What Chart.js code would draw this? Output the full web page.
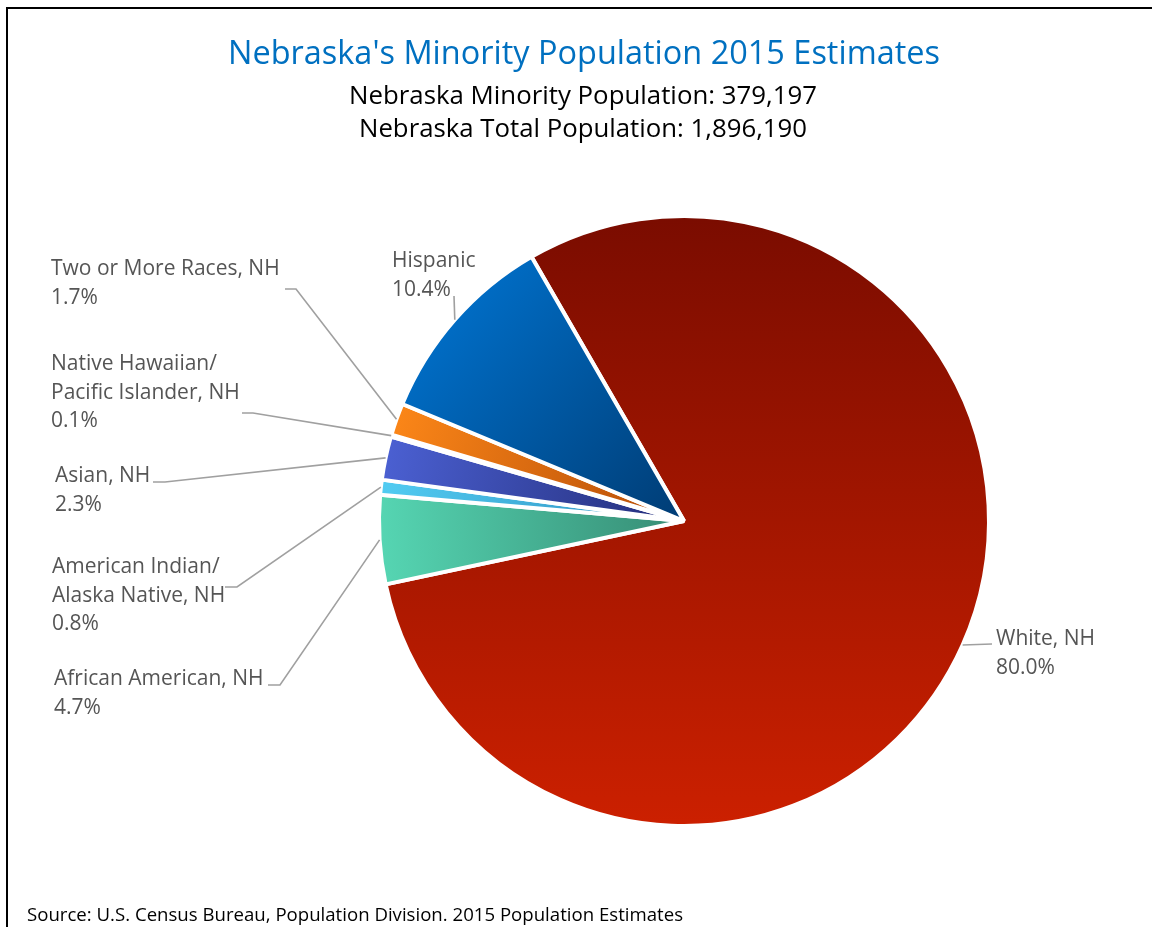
<!DOCTYPE html>
<html>
<head>
<meta charset="utf-8">
<title>Nebraska's Minority Population 2015 Estimates</title>
<script src="https://cdn.jsdelivr.net/npm/chart.js@4/dist/chart.umd.min.js"></script>
<style>
  html, body { margin: 0; padding: 0; background: #fff; }
  #wrap { position: relative; width: 1152px; height: 927px; }
</style>
</head>
<body>
<div id="wrap"><canvas id="pie"></canvas></div>
<script>
    // Race / ethnicity groups, clockwise from the top of the White slice
    const categories = [
        ['White, NH'],
        ['African American, NH'],
        ['American Indian/', 'Alaska Native, NH'],
        ['Asian, NH'],
        ['Native Hawaiian/', 'Pacific Islander, NH'],
        ['Two or More Races, NH'],
        ['Hispanic']
    ];
    const shares = [80.0, 4.7, 0.8, 2.3, 0.1, 1.7, 10.4];

    const titleText = "Nebraska's Minority Population 2015 Estimates";
    const subtitleLines = [
        'Nebraska Minority Population: 379,197',
        'Nebraska Total Population: 1,896,190'
    ];
    const sourceText = 'Source: U.S. Census Bureau, Population Division. 2015 Population Estimates';

    // [outer colour, inner colour] per slice
    const fillStops = [
        ['#7a0c00', '#cc2000'],
        ['#56d6b3', '#368c74'],
        ['#52ccf2', '#2f8fbf'],
        ['#4b60d2', '#232d78'],
        ['#7b55c8', '#3f2a80'],
        ['#fb8618', '#b44c08'],
        ['#006cc4', '#003c74']
    ];

    const ROTATION = -30;
    const FONT = '"Open Sans", "DejaVu Sans", sans-serif';

    // where each data label sits and how its leader line bends
    const labelPlaces = [
        { x: 996, y: 645, path: [[992, 644]] },
        { x: 54, y: 685, path: [[280, 685], [268, 685]] },
        { x: 52, y: 573, path: [[237, 587], [225, 587]] },
        { x: 55, y: 482, path: [[165, 482], [153, 482]] },
        { x: 51, y: 370, path: [[253, 413], [242, 413]] },
        { x: 51, y: 275, path: [[296, 289], [285, 289]] },
        { x: 392, y: 267, path: [[454, 296]] }
    ];

    function midAngle(i) {
        const total = shares.reduce((a, b) => a + b, 0);
        let before = 0;
        for (let k = 0; k < i; k++) before += shares[k];
        const deg = ROTATION + (before + shares[i] / 2) / total * 360;
        return deg * Math.PI / 180;
    }

    function sliceFill(context) {
        const chart = context.chart;
        const area = chart.chartArea;
        const i = context.dataIndex;
        if (!area) return fillStops[i][1];
        const cx = (area.left + area.right) / 2;
        const cy = (area.top + area.bottom) / 2;
        const r = Math.min(area.width, area.height) / 2;
        let grad;
        if (i === 0) {
            grad = chart.ctx.createLinearGradient(0, cy - r, 0, cy + r);
        } else {
            const a = midAngle(i);
            grad = chart.ctx.createLinearGradient(cx + Math.sin(a) * r, cy - Math.cos(a) * r, cx, cy);
        }
        grad.addColorStop(0, fillStops[i][0]);
        grad.addColorStop(1, fillStops[i][1]);
        return grad;
    }

    function drawText(ctx, text, x, y, font, color, align, maxWidth) {
        ctx.font = font;
        ctx.fillStyle = color;
        ctx.textAlign = align;
        ctx.textBaseline = 'alphabetic';
        if (maxWidth) ctx.fillText(text, x, y, maxWidth);
        else ctx.fillText(text, x, y);
    }

    const framePlugin = {
        id: 'frame',
        beforeDraw(chart) {
            const ctx = chart.ctx;
            ctx.save();
            ctx.fillStyle = '#fff';
            ctx.fillRect(0, 0, chart.width, chart.height);
            ctx.fillStyle = '#000';
            ctx.fillRect(6, 7, chart.width - 6, 2);
            ctx.fillRect(6, 7, 2, chart.height - 7);
            ctx.restore();
        },
        afterDraw(chart) {
            const ctx = chart.ctx;
            ctx.save();
            drawText(ctx, titleText, 584, 64, '33px ' + FONT, '#0070c0', 'center', 712);
            drawText(ctx, subtitleLines[0], 583, 104, '26px ' + FONT, '#000', 'center', 468);
            drawText(ctx, subtitleLines[1], 583, 137, '26px ' + FONT, '#000', 'center', 448);
            drawText(ctx, sourceText, 27, 921, '19px ' + FONT, '#000', 'left', 656);
            ctx.restore();
        }
    };

    const labelPlugin = {
        id: 'sliceLabels',
        afterDatasetsDraw(chart) {
            const ctx = chart.ctx;
            const meta = chart.getDatasetMeta(0);
            ctx.save();
            meta.data.forEach((arc, i) => {
                const p = arc.getProps(['x', 'y', 'startAngle', 'endAngle', 'outerRadius'], true);
                const mid = (p.startAngle + p.endAngle) / 2;
                const px = p.x + Math.cos(mid) * p.outerRadius;
                const py = p.y + Math.sin(mid) * p.outerRadius;
                const place = labelPlaces[i];

                ctx.strokeStyle = '#a0a0a0';
                ctx.lineWidth = 1.6;
                ctx.beginPath();
                ctx.moveTo(px, py);
                place.path.forEach(pt => ctx.lineTo(pt[0], pt[1]));
                ctx.stroke();

                const lines = categories[i].concat([shares[i].toFixed(1) + '%']);
                lines.forEach((line, k) => {
                    drawText(ctx, line, place.x, place.y + k * 28.5, '21px ' + FONT, '#555555', 'left');
                });
            });
            ctx.restore();
        }
    };

    new Chart(document.getElementById('pie'), {
        type: 'pie',
        data: {
            labels: categories.map(c => c.join(' ')),
            datasets: [{
                data: shares,
                backgroundColor: sliceFill,
                borderColor: '#ffffff',
                borderWidth: 4,
                offset: 0,
                hoverOffset: 0
            }]
        },
        options: {
            responsive: true,
            maintainAspectRatio: false,
            animation: false,
            rotation: ROTATION,
            layout: { padding: { left: 377, right: 161, top: 214, bottom: 99 } },
            plugins: {
                legend: { display: false },
                tooltip: { enabled: false },
                title: { display: false }
            }
        },
        plugins: [framePlugin, labelPlugin]
    });
</script>
</body>
</html>
